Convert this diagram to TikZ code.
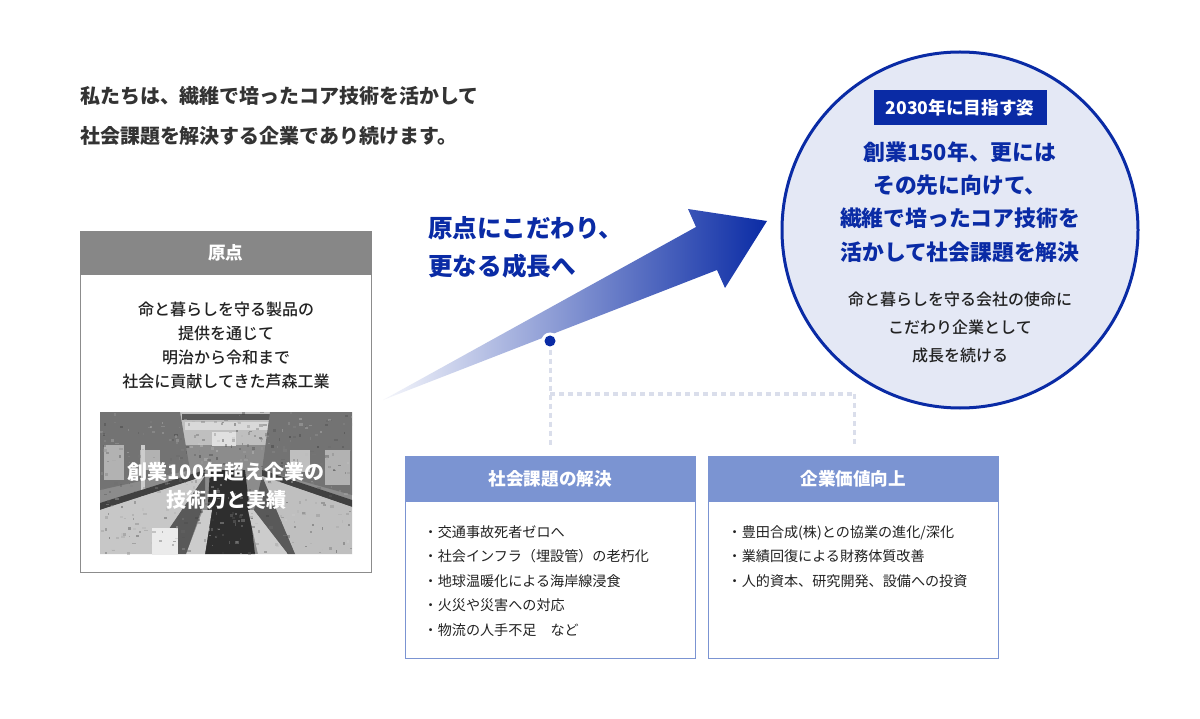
\documentclass[tikz,border=0pt]{standalone}
\usepackage{fontspec}
\setmainfont{Noto Sans CJK JP}
\newfontfamily\medfont{Noto Sans CJK JP Medium}
\usetikzlibrary{calc}
\definecolor{navy}{HTML}{0A2BA5}
\definecolor{pale}{HTML}{E4E8F5}
\definecolor{midblue}{HTML}{7B94D2}
\definecolor{ink}{HTML}{222222}
\definecolor{dashc}{HTML}{DADEEB}
\tikzset{
  x=1pt,y=-1pt,
  txt/.style={inner sep=0pt,text=ink,align=center},
  body/.style={txt,font=\fontsize{16}{24}\selectfont},
  listx/.style={txt,align=left,anchor=north west,font=\fontsize{14.1}{24.5}\selectfont},
  head/.style={inner sep=0pt,text=white,font=\bfseries\fontsize{17.6}{20}\selectfont},
  panel/.style={draw=midblue,line width=1pt,fill=white},
  band/.style={fill=midblue},
  conn/.style={dashc,line width=3pt,dash pattern=on 5pt off 4pt},
  big/.style={inner sep=0pt,text=navy,align=center,font=\bfseries\fontsize{21.8}{33.4}\selectfont},
}
\begin{document}
\begin{tikzpicture}
\useasboundingbox (0,0) rectangle (1200,719);
\fill[white] (0,0) rectangle (1200,719);
% intro
\node[txt,text=black!80,anchor=north west,align=left,font=\bfseries\fontsize{19.95}{40}\selectfont] (intro) at (80,86)
  {私たちは、繊維で培ったコア技術を活かして\\社会課題を解決する企業であり続けます。};
% origin panel
\node[draw=black!45,line width=1pt,fill=white,minimum width=291pt,minimum height=341pt,inner sep=0pt,anchor=north west] (origin) at (80,231) {};
\node[fill=black!47,minimum width=292pt,minimum height=44pt,inner sep=0pt,anchor=north west,head] (originh) at (79.5,230.5) {\raisebox{-1.5pt}{原点}};
\node[body,font=\medfont\fontsize{16}{24}\selectfont] (origint) at (226,345) {命と暮らしを守る製品の\\提供を通じて\\明治から令和まで\\社会に貢献してきた芦森工業};
% photo
\begin{scope}
\clip (100,412) rectangle (352,554);
\fill[black!45] (100,412) rectangle (352,554);
\fill[black!25] (100,412) rectangle (352,445);
\fill[black!65] (182,414) rectangle (285,420);
\fill[black!15] (185,422) rectangle (280,430);
\fill[black!12] (212,432) rectangle (236,446);
\fill[black!55] (100,412) -- (180,412) -- (190,470) -- (100,490) -- cycle;
\fill[black!55] (352,412) -- (270,412) -- (262,470) -- (352,495) -- cycle;
\fill[black!30] (104,445) rectangle (124,480);
\fill[black!30] (325,450) rectangle (350,485);
\fill[black!30] (140,450) rectangle (160,470);
\fill[black!25] (290,450) rectangle (310,472);
\fill[black!20] (141,445) rectangle (145,505);
\fill[black!75] (100,503) -- (205,470) -- (205,476) -- (100,510) -- cycle;
\fill[black!75] (352,500) -- (262,470) -- (262,476) -- (352,507) -- cycle;
\fill[black!22] (100,510) -- (205,476) -- (152,554) -- (100,554) -- cycle;
\fill[black!25] (352,507) -- (262,476) -- (295,554) -- (352,554) -- cycle;
\fill[black!82] (210,470) -- (245,470) -- (255,554) -- (205,554) -- cycle;
\fill[black!20] (203,510) -- (212,510) -- (205,554) -- (186,554) -- cycle;
\fill[black!20] (248,510) -- (254,510) -- (288,554) -- (258,554) -- cycle;
\fill[black!65] (152,554) -- (205,476) -- (205,500) -- (186,554) -- cycle;
\fill[black!65] (295,554) -- (262,476) -- (254,510) -- (288,554) -- cycle;
\fill[black!8] (152,528) rectangle (178,554);
\pgfmathsetseed{7}
\foreach \i in {1,...,420}{
  \pgfmathsetmacro{\px}{100+252*rnd}
  \pgfmathsetmacro{\py}{412+142*rnd}
  \pgfmathsetmacro{\pw}{1+3*rnd}
  \pgfmathsetmacro{\ph}{1+2*rnd}
  \pgfmathsetmacro{\pg}{int(20+60*rnd)}
  \fill[black!\pg,opacity=.4] (\px,\py) rectangle ++(\pw,\ph);
}
\end{scope}
\node[head,align=center,font=\bfseries\fontsize{20}{28}\selectfont] (phototext) at (226,486) {創業100年超え企業の\\技術力と実績};
% arrow
\path[left color=navy!4,right color=navy] (383,400) -- (696,227) -- (688,209) -- (767,221) -- (725,288) -- (717,270) -- cycle;
\node[big,anchor=north west,align=left,font=\bfseries\fontsize{24.6}{38}\selectfont] (arrowt) at (428,216) {原点にこだわり、\\更なる成長へ};
% dot
\node[circle,fill=white,minimum size=17pt,inner sep=0pt] (doth) at (550,341) {};
\node[circle,fill=navy,minimum size=11pt,inner sep=0pt] (dot) at (550,341) {};
% lower boxes
\node[panel,minimum width=290pt,minimum height=201pt,inner sep=0pt,anchor=north west] (boxa) at (405,456.5) {};
\node[band,head,minimum width=291pt,minimum height=46pt,anchor=north west] (boxah) at (404.5,456) {\raisebox{-1pt}{社会課題の解決}};
\node[panel,minimum width=290pt,minimum height=201pt,inner sep=0pt,anchor=north west] (boxb) at (708,456.5) {};
\node[band,head,minimum width=291pt,minimum height=46pt,anchor=north west] (boxbh) at (707.5,456) {\raisebox{-1pt}{企業価値向上}};
\node[listx] (lista) at (423.5,525) {・交通事故死者ゼロへ\\・社会インフラ（埋設管）の老朽化\\・地球温暖化による海岸線浸食\\・火災や災害への対応\\・物流の人手不足　など};
\node[listx] (listb) at (727.5,525) {・豊田合成(株)との協業の進化/深化\\・業績回復による財務体質改善\\・人的資本、研究開発、設備への投資};
% connectors
\coordinate (junction) at (dot |- 0,394);
\coordinate (elbow) at ([xshift=1pt]boxbh.north |- 0,394);
\draw[conn,shorten <=3pt,shorten >=11pt] (dot.south) -- (dot |- boxah.north);
\draw[conn] (junction) -- (elbow);
\draw[conn,shorten >=11pt] (elbow) -- (elbow |- boxbh.north);
% circle
\node[circle,draw=navy,line width=3pt,fill=pale,minimum size=356pt,inner sep=0pt] (goal) at (960,230) {};
\node[fill=navy,head,minimum width=173pt,minimum height=35pt] (goaltag) at (960,107.5) {2030年に目指す姿};
\node[big] (goalt) at (960,202) {創業150年、更には\\その先に向けて、\\繊維で培ったコア技術を\\活かして社会課題を解決};
\node[txt,font=\medfont\fontsize{16}{28}\selectfont] (goalb) at (960,327) {命と暮らしを守る会社の使命に\\こだわり企業として\\成長を続ける};
\end{tikzpicture}
\end{document}
